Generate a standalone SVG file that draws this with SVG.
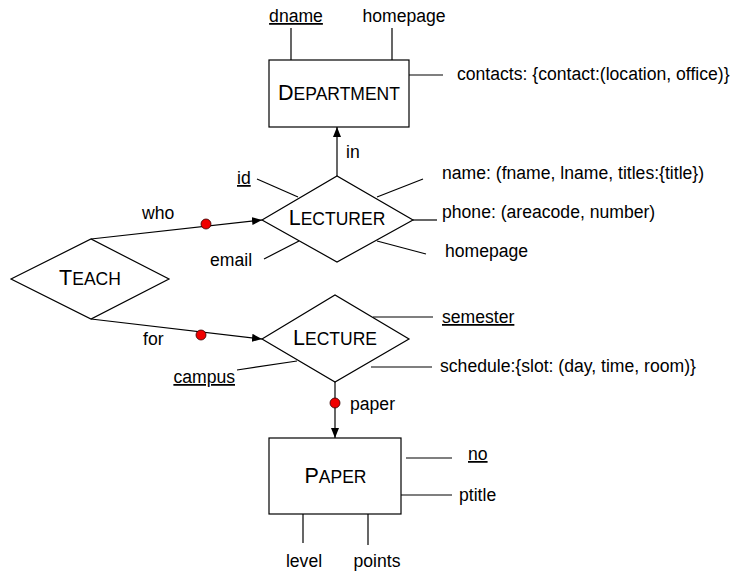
<svg xmlns="http://www.w3.org/2000/svg" width="733" height="573" viewBox="0 0 733 573">
<defs>
<marker id="arr" viewBox="0 0 10 10" refX="10" refY="5" markerWidth="10" markerHeight="10" markerUnits="userSpaceOnUse" orient="auto">
<path d="M0,1 L10,5 L0,9 Z" fill="#000"/>
</marker>
</defs>
<style>
.shape{fill:#fff;stroke:#000;stroke-width:1.2}
.ln{fill:none;stroke:#000;stroke-width:1.2}
.t{font-family:"Liberation Sans",Arial,sans-serif;font-size:17.6px;fill:#000}
.sc{font-family:"Liberation Sans",Arial,sans-serif;font-size:21.5px;fill:#000;text-anchor:middle}
.sm{font-size:17.5px}
.u{text-decoration:underline}
.dot{fill:#f00000;stroke:#300;stroke-width:0.8}
</style>
<rect width="733" height="573" fill="#fff"/>
<g id="connectors">
<line class="ln" x1="337" y1="176" x2="337" y2="127" marker-end="url(#arr)"/>
<line class="ln" x1="91" y1="239" x2="262" y2="220" marker-end="url(#arr)"/>
<line class="ln" x1="91" y1="319" x2="262" y2="339" marker-end="url(#arr)"/>
<line class="ln" x1="335" y1="382" x2="335" y2="438" marker-end="url(#arr)"/>
<circle class="dot" cx="206" cy="224" r="5"/>
<circle class="dot" cx="201" cy="335" r="5"/>
<circle class="dot" cx="335" cy="403" r="5"/>
<text class="t" x="346" y="158">in</text>
<text class="t" x="142" y="219">who</text>
<text class="t" x="143" y="345">for</text>
<text class="t" x="350" y="410">paper</text>
</g>
<g id="department">
<line class="ln" x1="291" y1="28" x2="291" y2="60"/>
<line class="ln" x1="392" y1="28" x2="392" y2="60"/>
<line class="ln" x1="409" y1="75" x2="443" y2="75"/>
<rect class="shape" x="269" y="60" width="140" height="67"/>
<text class="sc" x="339" y="100">D<tspan class="sm">EPARTMENT</tspan></text>
<text class="t u" x="296" y="22" text-anchor="middle">dname</text>
<text class="t" x="404" y="22" text-anchor="middle">homepage</text>
<text class="t" x="457" y="80">contacts: {contact:(location, office)}</text>
</g>
<g id="lecturer">
<line class="ln" x1="257" y1="179" x2="298" y2="197"/>
<line class="ln" x1="377" y1="197" x2="423" y2="179"/>
<line class="ln" x1="413" y1="220" x2="437" y2="220"/>
<line class="ln" x1="377" y1="241" x2="426" y2="254"/>
<line class="ln" x1="299" y1="241" x2="264" y2="259"/>
<polygon class="shape" points="262,220 337,176 413,220 337,262"/>
<text class="sc" x="337" y="225">L<tspan class="sm">ECTURER</tspan></text>
<text class="t u" x="237" y="184">id</text>
<text class="t" x="210" y="266">email</text>
<text class="t" x="442" y="179">name: (fname, lname, titles:{title})</text>
<text class="t" x="442" y="218">phone: (areacode, number)</text>
<text class="t" x="445" y="257">homepage</text>
</g>
<g id="teach">
<polygon class="shape" points="11,279 91,239 169,279 91,319"/>
<text class="sc" x="90" y="285">T<tspan class="sm">EACH</tspan></text>
</g>
<g id="lecture">
<line class="ln" x1="373" y1="317" x2="433" y2="317"/>
<line class="ln" x1="371" y1="367" x2="432" y2="367"/>
<line class="ln" x1="297" y1="361" x2="237" y2="370"/>
<polygon class="shape" points="262,339 335,295 409,339 335,382"/>
<text class="sc" x="335" y="345">L<tspan class="sm">ECTURE</tspan></text>
<text class="t u" x="442" y="323">semester</text>
<text class="t" x="440" y="372">schedule:{slot: (day, time, room)}</text>
<text class="t u" x="235" y="383" text-anchor="end">campus</text>
</g>
<g id="paper">
<line class="ln" x1="406" y1="458" x2="452" y2="458"/>
<line class="ln" x1="401" y1="495" x2="452" y2="495"/>
<line class="ln" x1="303" y1="514" x2="303" y2="543"/>
<line class="ln" x1="368" y1="514" x2="368" y2="545"/>
<rect class="shape" x="269" y="438" width="132" height="76"/>
<text class="sc" x="335.5" y="483">P<tspan class="sm">APER</tspan></text>
<text class="t u" x="468" y="460">no</text>
<text class="t" x="459" y="501">ptitle</text>
<text class="t" x="304" y="567" text-anchor="middle">level</text>
<text class="t" x="377" y="567" text-anchor="middle">points</text>
</g>
</svg>
